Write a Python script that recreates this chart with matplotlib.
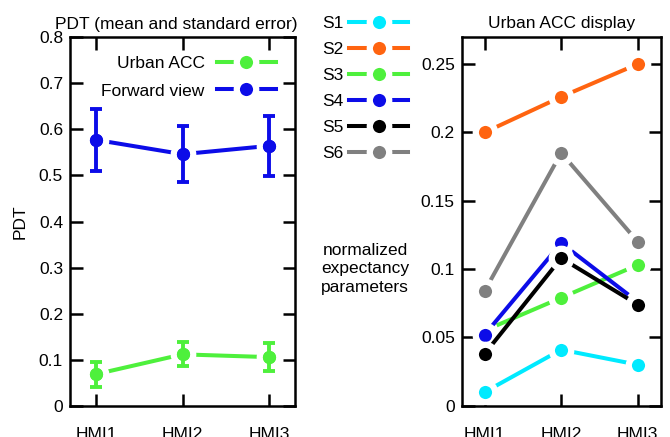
import numpy as np
import matplotlib.pyplot as plt
from matplotlib.lines import Line2D
from matplotlib.ticker import FormatStrFormatter

plt.rcParams['font.family'] = ['Liberation Sans', 'DejaVu Sans']
plt.rcParams['font.size'] = 12.5

hmi = ['HMI1', 'HMI2', 'HMI3']

# left panel: PDT mean and standard error
pdt_urban = [0.069, 0.112, 0.106]
pdt_urban_se = [0.027, 0.026, 0.031]
pdt_forward = [0.577, 0.546, 0.564]
pdt_forward_se = [0.067, 0.060, 0.065]

# right panel: normalized expectancy parameters, Urban ACC display
subjects = ['S1', 'S2', 'S3', 'S4', 'S5', 'S6']
s1 = [0.010, 0.041, 0.030]
s2 = [0.200, 0.226, 0.250]
s3 = [0.055, 0.079, 0.103]
s4 = [0.052, 0.119, 0.076]
s5 = [0.038, 0.108, 0.074]
s6 = [0.084, 0.185, 0.120]

c_cyan = '#00eaff'
c_orange = '#ff6410'
c_green = '#4ef03c'
c_blue = '#0c0ce8'
c_gray = '#808080'
subj_colors = [c_cyan, c_orange, c_green, c_blue, 'black', c_gray]

lw = 2.9
ms = 14
mew = 4.5
fs = 12.5

fig = plt.figure(figsize=(6.7, 4.37), dpi=100)
ax1 = fig.add_axes([0.1045, 0.0709, 0.3358, 0.8444])
ax2 = fig.add_axes([0.6891, 0.0716, 0.2970, 0.8444])

x = np.arange(1, 4)


def style(ax):
    for s in ax.spines.values():
        s.set_linewidth(1.8)
    ax.tick_params(direction='in', length=9, width=1.8, top=True, right=True,
                   labelsize=fs)
    ax.tick_params(axis='x', pad=15)
    ax.tick_params(axis='y', pad=5)
    ax.set_xticks(x)
    ax.set_xticklabels(hmi)
    ax.set_xlim(0.7, 3.3)


handles = []
for vals, se, col, lab in [(pdt_urban, pdt_urban_se, c_green, 'Urban ACC'),
                           (pdt_forward, pdt_forward_se, c_blue, 'Forward view')]:
    ax1.plot(x, vals, color=col, lw=lw, marker='o', ms=ms, mfc=col,
             mec='white', mew=mew, zorder=2)
    ax1.errorbar(x, vals, yerr=se, fmt='none', ecolor=col, elinewidth=2.8,
                 capsize=4.5, capthick=2.8, zorder=3)
    ax1.plot(x, vals, ls='none', marker='o', ms=ms - mew, color=col, mew=0,
             zorder=4)
    handles.append(Line2D([], [], color=col, lw=lw, marker='o', ms=ms, mfc=col,
                          mec='white', mew=mew, label=lab))

style(ax1)
ax1.set_ylim(0, 0.8)
ax1.set_yticks(np.arange(0, 0.81, 0.1))
ax1.yaxis.set_major_formatter(FormatStrFormatter('%g'))
ax1.set_ylabel('PDT', labelpad=8)
ax1.set_title('PDT (mean and standard error)', fontsize=fs, pad=6, x=0.47)
ax1.legend(handles=handles, loc='upper right', markerfirst=False, frameon=False,
           handlelength=3.4, labelspacing=0.7, borderaxespad=0.7,
           handletextpad=0.7, fontsize=fs)

sub_handles = []
for vals, col, lab in zip([s1, s2, s3, s4, s5, s6], subj_colors, subjects):
    ax2.plot(x, vals, color=col, lw=lw, marker='o', ms=ms, mfc=col,
             mec='white', mew=mew, label=lab)
    sub_handles.append(Line2D([], [], color=col, lw=lw, marker='o', ms=ms,
                              mfc=col, mec='white', mew=mew, label=lab))

style(ax2)
ax2.set_ylim(0, 0.27)
ax2.set_yticks(np.arange(0, 0.26, 0.05))
ax2.yaxis.set_major_formatter(FormatStrFormatter('%g'))
ax2.set_title('Urban ACC display', fontsize=fs, pad=6)

fig.legend(handles=sub_handles, loc='upper left', bbox_to_anchor=(0.458, 1.0),
           markerfirst=False, frameon=False, handlelength=3.4,
           labelspacing=0.63, handletextpad=0.3, fontsize=fs)

fig.text(365 / 670, (437 - 269) / 437, 'normalized\nexpectancy\nparameters',
         ha='center', va='center', fontsize=fs, linespacing=1.3)

fig.savefig('out.png', dpi=100)
